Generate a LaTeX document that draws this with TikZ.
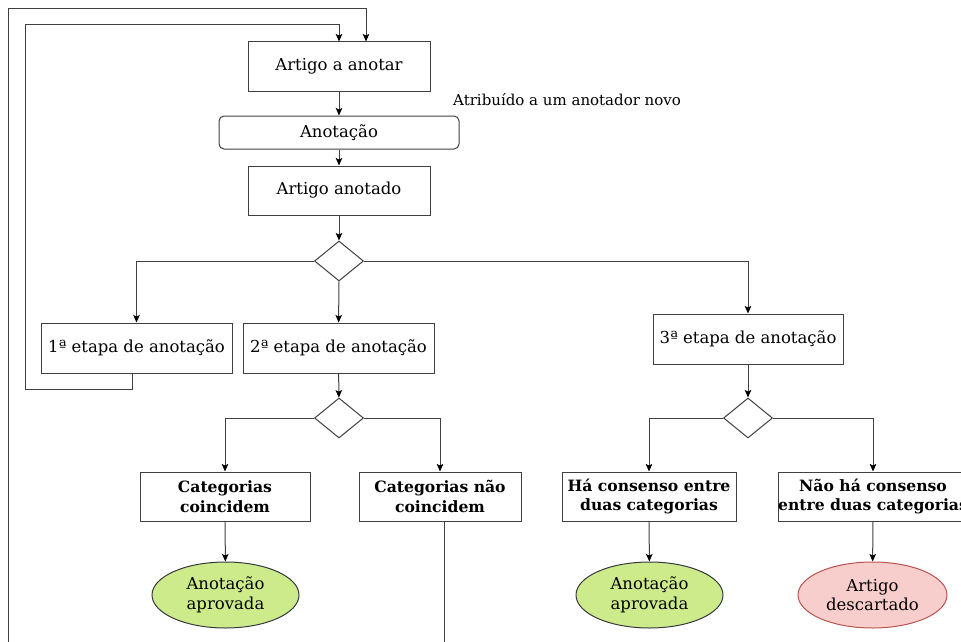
\documentclass[tikz,border=0pt]{standalone}
\usepackage{fontspec}
\setmainfont{DejaVu Serif}
\usetikzlibrary{shapes.geometric,arrows.meta}
\definecolor{edge}{HTML}{404040}
\definecolor{okfill}{HTML}{CDEB8B}
\definecolor{okline}{HTML}{36393D}
\definecolor{badfill}{HTML}{F8CECC}
\definecolor{badline}{HTML}{B85450}
\tikzset{
  base/.style={font=\fontsize{16.5}{19.5}\selectfont, align=center, inner sep=0pt},
  strong/.style={font=\fontsize{15.6}{19.5}\selectfont\bfseries},
  stepbox/.style={base, draw=edge, line width=1pt, fill=white},
  roundbox/.style={stepbox, rounded corners=5pt},
  choice/.style={draw=edge, line width=1pt, diamond, minimum width=49pt, minimum height=40pt, inner sep=0pt},
  outcome/.style={base, ellipse, line width=1pt, minimum width=147pt, minimum height=66pt},
  flow/.style={draw=edge, line width=1pt, -{Stealth[length=7.5pt,width=6.5pt,inset=1.5pt,color=black]}},
  plain/.style={draw=edge, line width=1pt}
}
\begin{document}
\begin{tikzpicture}[x=1pt,y=-1pt]
\useasboundingbox (0,0) rectangle (961,642);
\clip (0,0) rectangle (961,642);

% main chain
\node[stepbox, minimum width=182pt, minimum height=49pt] (art) at (339,66.5) {Artigo a anotar};
\node[roundbox, minimum width=240pt, minimum height=33pt] (anot) at (339,132.5) {Anotação};
\node[stepbox, minimum width=182pt, minimum height=49pt] (anotado) at (339,190.5) {Artigo anotado};
\node[choice] (d1) at (339,261) {};

% annotation stages
\node[stepbox, minimum width=191pt, minimum height=50pt] (e1) at (136.5,348) {1ª etapa de anotação};
\node[stepbox, minimum width=191pt, minimum height=50pt] (e2) at (338.5,348) {2ª etapa de anotação};
\node[stepbox, minimum width=190pt, minimum height=50pt] (e3) at (748,339) {3ª etapa de anotação};
\node[choice] (d2) at (339,418) {};
\node[choice] (d3) at (748,418) {};

% results
\node[stepbox, strong, minimum width=170pt, minimum height=49pt] (c1) at (225,496.5) {Categorias\\coincidem};
\node[stepbox, strong, minimum width=162pt, minimum height=49pt] (c2) at (440,496.5) {Categorias não\\coincidem};
\node[stepbox, strong, minimum width=174pt, minimum height=49pt] (h1) at (649,496.5) {Há consenso entre\\duas categorias};
\node[stepbox, strong, minimum width=190pt, minimum height=49pt] (h2) at (873,496.5) {Não há consenso\\entre duas categorias};

\node[outcome, draw=okline, fill=okfill] (ok1) at (225.5,595) {Anotação\\aprovada};
\node[outcome, draw=okline, fill=okfill] (ok2) at (649.5,595) {Anotação\\aprovada};
\node[outcome, draw=badline, fill=badfill, minimum width=149pt] (disc) at (872.5,595) {Artigo\\descartado};

\node[anchor=base west, font=\fontsize{15}{18}\selectfont, inner sep=0pt] (lbl) at (453,106) {Atribuído a um anotador novo};

% connectors
\draw[flow] (art) -- (anot);
\draw[flow] (anot) -- (anotado);
\draw[flow] (anotado) -- (d1);
\draw[flow] (d1) -- (e2);
\draw[flow] (d1.west) -| (e1.north);
\draw[flow] (d1.east) -| (e3.north);
\draw[flow] (e2) -- (d2);
\draw[flow] (e3) -- (d3);
\draw[flow] (d2.west) -| (c1.north);
\draw[flow] (d2.east) -| (c2.north);
\draw[flow] (d3.west) -| (h1.north);
\draw[flow] (d3.east) -| (h2.north);
\draw[flow] (c1) -- (ok1);
\draw[flow] (h1) -- (ok2);
\draw[flow] (h2) -- (disc);

% loops back to the start
\coordinate (back1) at ([xshift=-4pt]e1.south);
\coordinate (back2) at ([xshift=4pt]c2.south);
\coordinate (in2) at ([xshift=27pt]art.north);
\draw[flow] (back1) -- ++(0,16) -| (25,25) -| (art.north);
\draw[flow] (back2) -- ++(0,160) -| (8,9) -| (in2);
\end{tikzpicture}
\end{document}
